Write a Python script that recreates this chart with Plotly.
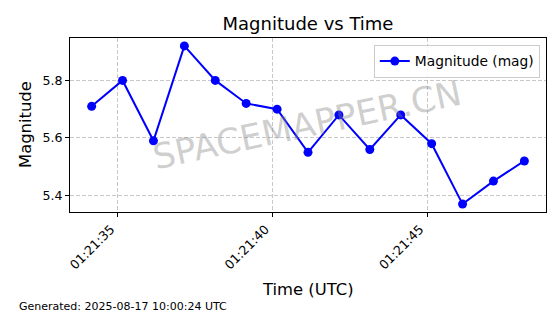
import plotly.graph_objects as go

times = ["2025-08-17 01:21:%06.3f" % s for s in
         [34.15, 35.15, 36.15, 37.15, 38.15, 39.15, 40.15, 41.15,
          42.15, 43.15, 44.15, 45.15, 46.15, 47.15, 48.15]]
magnitudes = [5.71, 5.80, 5.59, 5.92, 5.80, 5.72, 5.70, 5.55,
              5.68, 5.56, 5.68, 5.58, 5.37, 5.45, 5.52]
y_ticks = [5.4, 5.6, 5.8]
x_ticks = ["2025-08-17 01:21:35", "2025-08-17 01:21:40", "2025-08-17 01:21:45"]
x_tick_labels = ["01:21:35", "01:21:40", "01:21:45"]

W, H = 560, 314
L, R, T, B = 70, 14, 38, 102
FONT = "DejaVu Sans"

fig = go.Figure()
fig.add_trace(go.Scatter(
    x=times, y=magnitudes, mode="lines+markers", name="Magnitude (mag)",
    line=dict(color="#0000ff", width=2),
    marker=dict(color="#0000ff", size=9),
))

grid = dict(showgrid=True, gridcolor="rgba(176,176,176,0.7)", griddash="4px,2px",
            gridwidth=1, showline=True, linecolor="black", linewidth=1, mirror=True,
            ticks="outside", ticklen=4, tickcolor="black", zeroline=False,
            tickfont=dict(family=FONT, size=12.6, color="black"))

fig.update_layout(
    width=W, height=H,
    margin=dict(l=L, r=R, t=T, b=B, autoexpand=False),
    paper_bgcolor="white", plot_bgcolor="white",
    font=dict(family=FONT, color="black"),
    title=dict(text="Magnitude vs Time", x=(L + (W - R)) / 2 / W, xanchor="center",
               y=1 - 24 / H, yanchor="middle", yref="container",
               font=dict(family=FONT, size=18, color="black")),
    xaxis=dict(type="date", range=["2025-08-17 01:21:33.45", "2025-08-17 01:21:48.85"],
               tickmode="array", tickvals=x_ticks, ticktext=x_tick_labels,
               tickangle=-45, ticklabelshift=-7, **grid),
    yaxis=dict(range=[5.3425, 5.9475], tickmode="array", tickvals=y_ticks,
               ticktext=["%.1f" % v for v in y_ticks], **grid),
    showlegend=True,
    legend=dict(x=0.987, xanchor="right", y=0.962, yanchor="top",
                bgcolor="rgba(255,255,255,0.8)", bordercolor="#cccccc", borderwidth=1,
                font=dict(family=FONT, size=13.8, color="black")),
)

fig.add_annotation(text="SPACEMAPPER.CN", xref="paper", yref="paper", x=0.498, y=0.5,
                   showarrow=False, textangle=-12,
                   font=dict(family=FONT, size=35, color="rgba(128,128,128,0.38)"))
fig.add_annotation(text="Time (UTC)", xref="paper", yref="paper",
                   x=0.5, y=-(289 - (H - B)) / (H - T - B), xanchor="center", yanchor="middle",
                   showarrow=False, font=dict(family=FONT, size=16.4, color="black"))
fig.add_annotation(text="Magnitude", xref="paper", yref="paper",
                   x=-(L - 25) / (W - L - R), y=0.5, xanchor="center", yanchor="middle",
                   textangle=-90, showarrow=False,
                   font=dict(family=FONT, size=16.4, color="black"))
fig.add_annotation(text="Generated: 2025-08-17 10:00:24 UTC", xref="paper", yref="paper",
                   x=-(L - 17) / (W - L - R), y=-(306 - (H - B)) / (H - T - B),
                   xanchor="left", yanchor="middle", showarrow=False,
                   font=dict(family=FONT, size=11, color="black"))

fig.write_html("out.html")
